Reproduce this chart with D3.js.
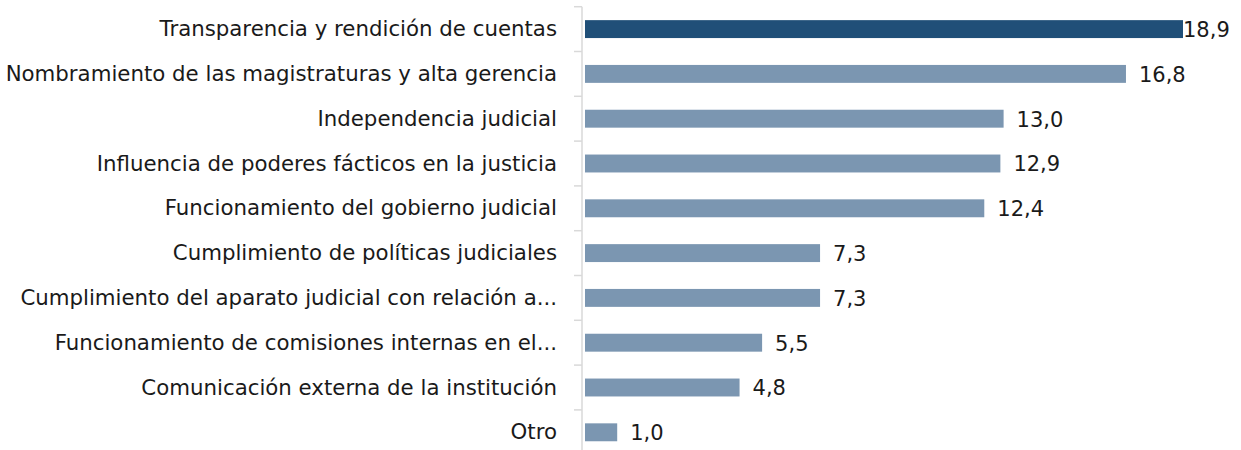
<!DOCTYPE html>
<html>
<head>
  <meta charset="utf-8">
  <script src="https://d3js.org/d3.v7.min.js"></script>
  <style>
    body { margin: 0; background: #fff; }
    text { font-family: "DejaVu Sans", "Noto Sans", sans-serif; fill: #1a1a1a; }
  </style>
</head>
<body>
<svg id="chart"></svg>
<script>
// categories top to bottom
var categories = [
  "Transparencia y rendición de cuentas",
  "Nombramiento de las magistraturas y alta gerencia",
  "Independencia judicial",
  "Influencia de poderes fácticos en la justicia",
  "Funcionamiento del gobierno judicial",
  "Cumplimiento de políticas judiciales",
  "Cumplimiento del aparato judicial con relación a...",
  "Funcionamiento de comisiones internas en el...",
  "Comunicación externa de la institución",
  "Otro"
];
var values = [18.9, 16.8, 13.0, 12.9, 12.4, 7.3, 7.3, 5.5, 4.8, 1.0];
var highlight = [true, false, false, false, false, false, false, false, false, false];

var width = 1241, height = 450;
var axisX = 582;
var plotRight = 1183;

var svg = d3.select("#chart")
  .attr("width", width)
  .attr("height", height);

var x = d3.scaleLinear().domain([0, 1]).range([axisX + 3, axisX + 3 + 32.2]);
var y = d3.scaleBand().domain(categories).range([6.7, 6.7 + 44.8 * 10]).paddingInner(0.6).paddingOuter(0.3);

svg.append("defs").append("clipPath").attr("id", "plot")
  .append("rect").attr("x", axisX).attr("y", 0).attr("width", plotRight - axisX).attr("height", height);

// bars
svg.append("g").attr("clip-path", "url(#plot)")
  .selectAll("rect")
  .data(values)
  .enter().append("rect")
    .attr("x", x(0))
    .attr("y", function(d, i) { return y(categories[i]); })
    .attr("width", function(d) { return x(d) - x(0); })
    .attr("height", y.bandwidth())
    .attr("fill", function(d, i) { return highlight[i] ? "#204f78" : "#7b96b1"; });

// value labels
svg.append("g").selectAll("text")
  .data(values)
  .enter().append("text")
    .attr("x", function(d) { return Math.min(x(d) + 13, plotRight); })
    .attr("y", function(d, i) { return y(categories[i]) + y.bandwidth() / 2; })
    .attr("dy", "0.38em")
    .style("font-size", "21px")
    .text(function(d) { return d3.format(".1f")(d).replace(".", ","); });

// category axis
var band = y.step();
var ticks = d3.range(categories.length + 1).map(function(i) { return 6.7 + band * i; });
var axis = svg.append("g");
axis.append("line")
  .attr("x1", axisX).attr("x2", axisX)
  .attr("y1", 6.7).attr("y2", height)
  .attr("stroke", "#d9d9d9").attr("stroke-width", 1.5);
axis.selectAll("line.tick")
  .data(ticks)
  .enter().append("line")
    .attr("class", "tick")
    .attr("x1", axisX - 8).attr("x2", axisX)
    .attr("y1", function(d) { return d; }).attr("y2", function(d) { return d; })
    .attr("stroke", "#d9d9d9").attr("stroke-width", 1.5);

axis.selectAll("text")
  .data(categories)
  .enter().append("text")
    .attr("x", 557)
    .attr("y", function(d) { return y(d) + y.bandwidth() / 2; })
    .attr("dy", "0.33em")
    .attr("text-anchor", "end")
    .style("font-size", "21.3px")
    .text(function(d) { return d; });
</script>
</body>
</html>
